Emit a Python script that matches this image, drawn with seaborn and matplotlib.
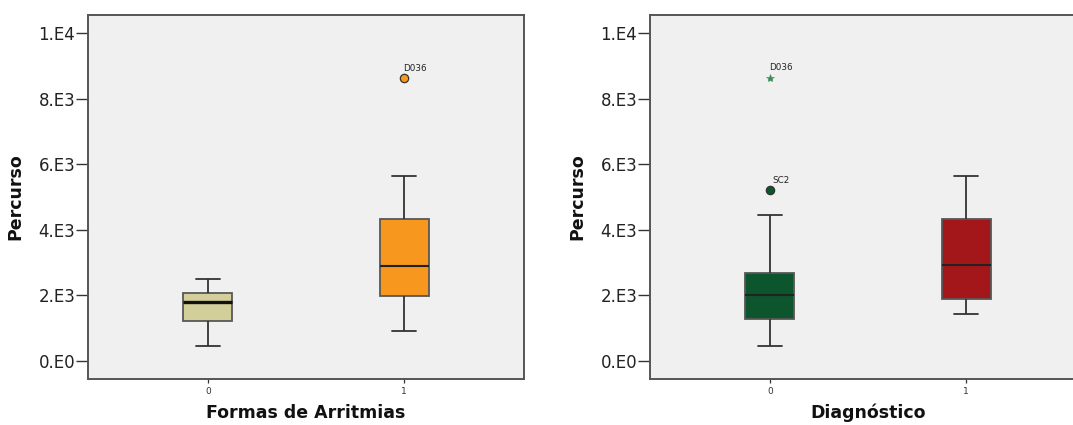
import numpy as np
import pandas as pd
import matplotlib
matplotlib.use("Agg")
import matplotlib.pyplot as plt
import seaborn as sns

# ---- data (five-number summaries) ----
groups = ["0", "1"]
# left panel: Formas de Arritmias
left_low = [460, 920]
left_q1 = [1220, 1985]
left_med = [1810, 2900]
left_q3 = [2080, 4330]
left_high = [2500, 5660]
left_out_group = ["1"]
left_out_value = [8640]
left_out_label = ["D036"]
left_out_marker = ["o"]

# right panel: Diagnóstico
right_low = [460, 1445]
right_q1 = [1270, 1890]
right_med = [2000, 2920]
right_q3 = [2690, 4340]
right_high = [4460, 5660]
right_out_group = ["0", "0"]
right_out_value = [5220, 8640]
right_out_label = ["SC2", "D036"]
right_out_marker = ["o", "*"]

ytick_values = [0, 2000, 4000, 6000, 8000, 10000]
ytick_labels = ["0.E0", "2.E3", "4.E3", "6.E3", "8.E3", "1.E4"]

left_colors = ["#D3CF9A", "#F7971E"]
right_colors = ["#0C552D", "#A3171B"]
left_out_colors = ["#F7971E"]
right_out_colors = ["#0C552D", "#3E8B5C"]

sns.set_theme(style="white")
plt.rcParams["font.family"] = ["DejaVu Sans"]

fig = plt.figure(figsize=(10.73, 4.25), dpi=100)
W, H = 1073.0, 425.0
ax_l = fig.add_axes([88 / W, 1 - 379 / H, 436 / W, 364 / H])
ax_r = fig.add_axes([650 / W, 1 - 379 / H, 436 / W, 364 / H])


def make_frame(low, q1, med, q3, high):
    rows = []
    for g, a, b, c, d, e in zip(groups, low, q1, med, q3, high):
        for v in (a, b, c, d, e):
            rows.append({"group": g, "value": v})
    return pd.DataFrame(rows)


def draw(ax, df, colors, med, thick_idx, out_g, out_v, out_lab, out_mk, out_col, xlabel):
    ax.set_facecolor("#F0F0F0")
    sns.boxplot(data=df, x="group", y="value", hue="group", order=groups,
                hue_order=groups, palette=colors, legend=False, width=0.25,
                whis=(0, 100), linewidth=1.3, linecolor="#333333",
                medianprops={"color": "#222222", "linewidth": 1.5},
                ax=ax, saturation=1)
    for p in ax.patches:
        p.set_edgecolor("#585858")
    # thicker median for the first left box
    if thick_idx is not None:
        for ln in ax.lines:
            yd = np.asarray(ln.get_ydata(), dtype=float)
            xd = np.asarray(ln.get_xdata(), dtype=float)
            if len(yd) == 2 and yd[0] == yd[1] == med[thick_idx] and abs(xd.mean() - thick_idx) < 0.01:
                ln.set_linewidth(2.4)
                ln.set_color("#111111")
    for g, v, lab, mk, col in zip(out_g, out_v, out_lab, out_mk, out_col):
        xi = groups.index(g)
        if mk == "o":
            ax.plot([xi], [v], marker="o", ms=6, mfc=col, mec="#333333", mew=0.9, ls="none")
            dx, dy = 2.0 if lab == "SC2" else -0.7, 5.2
        else:
            ax.plot([xi], [v], marker="*", ms=6, mfc=col, mec=col, mew=0.4, ls="none")
            dx, dy = -0.7, 5.8
        ax.annotate(lab, (xi, v), xytext=(dx, dy), textcoords="offset points",
                    ha="left", va="baseline", fontsize=6.3, color="#222222")
    ax.set_xlim(-0.61, 1.61)
    ax.set_ylim(-550, 10560)
    ax.set_yticks(ytick_values)
    ax.set_yticklabels(ytick_labels, fontsize=12, color="#222222")
    ax.set_xticks([0, 1])
    ax.set_xticklabels(groups, fontsize=6.5, color="#333333")
    ax.tick_params(axis="y", which="major", left=True, length=8.6, width=1.0,
                   color="#333333", pad=0.5, direction="out")
    ax.tick_params(axis="x", which="major", bottom=True, length=3, width=0.9,
                   color="#333333", pad=2.5, direction="out")
    for sp in ax.spines.values():
        sp.set_color("#555555")
        sp.set_linewidth(1.4)
    ax.set_ylabel("Percurso", fontsize=12.5, fontweight="bold", color="#111111")
    ax.set_xlabel(xlabel, fontsize=12.5, fontweight="bold", color="#111111")
    ax.yaxis.set_label_coords(-0.145, 0.5)
    ax.xaxis.set_label_coords(0.5, -0.068)
    ax.xaxis.label.set_va("top")


draw(ax_l, make_frame(left_low, left_q1, left_med, left_q3, left_high), left_colors,
     left_med, 0, left_out_group, left_out_value, left_out_label, left_out_marker,
     left_out_colors, "Formas de Arritmias")
draw(ax_r, make_frame(right_low, right_q1, right_med, right_q3, right_high), right_colors,
     right_med, None, right_out_group, right_out_value, right_out_label, right_out_marker,
     right_out_colors, "Diagnóstico")

fig.savefig("out.png", dpi=100)
